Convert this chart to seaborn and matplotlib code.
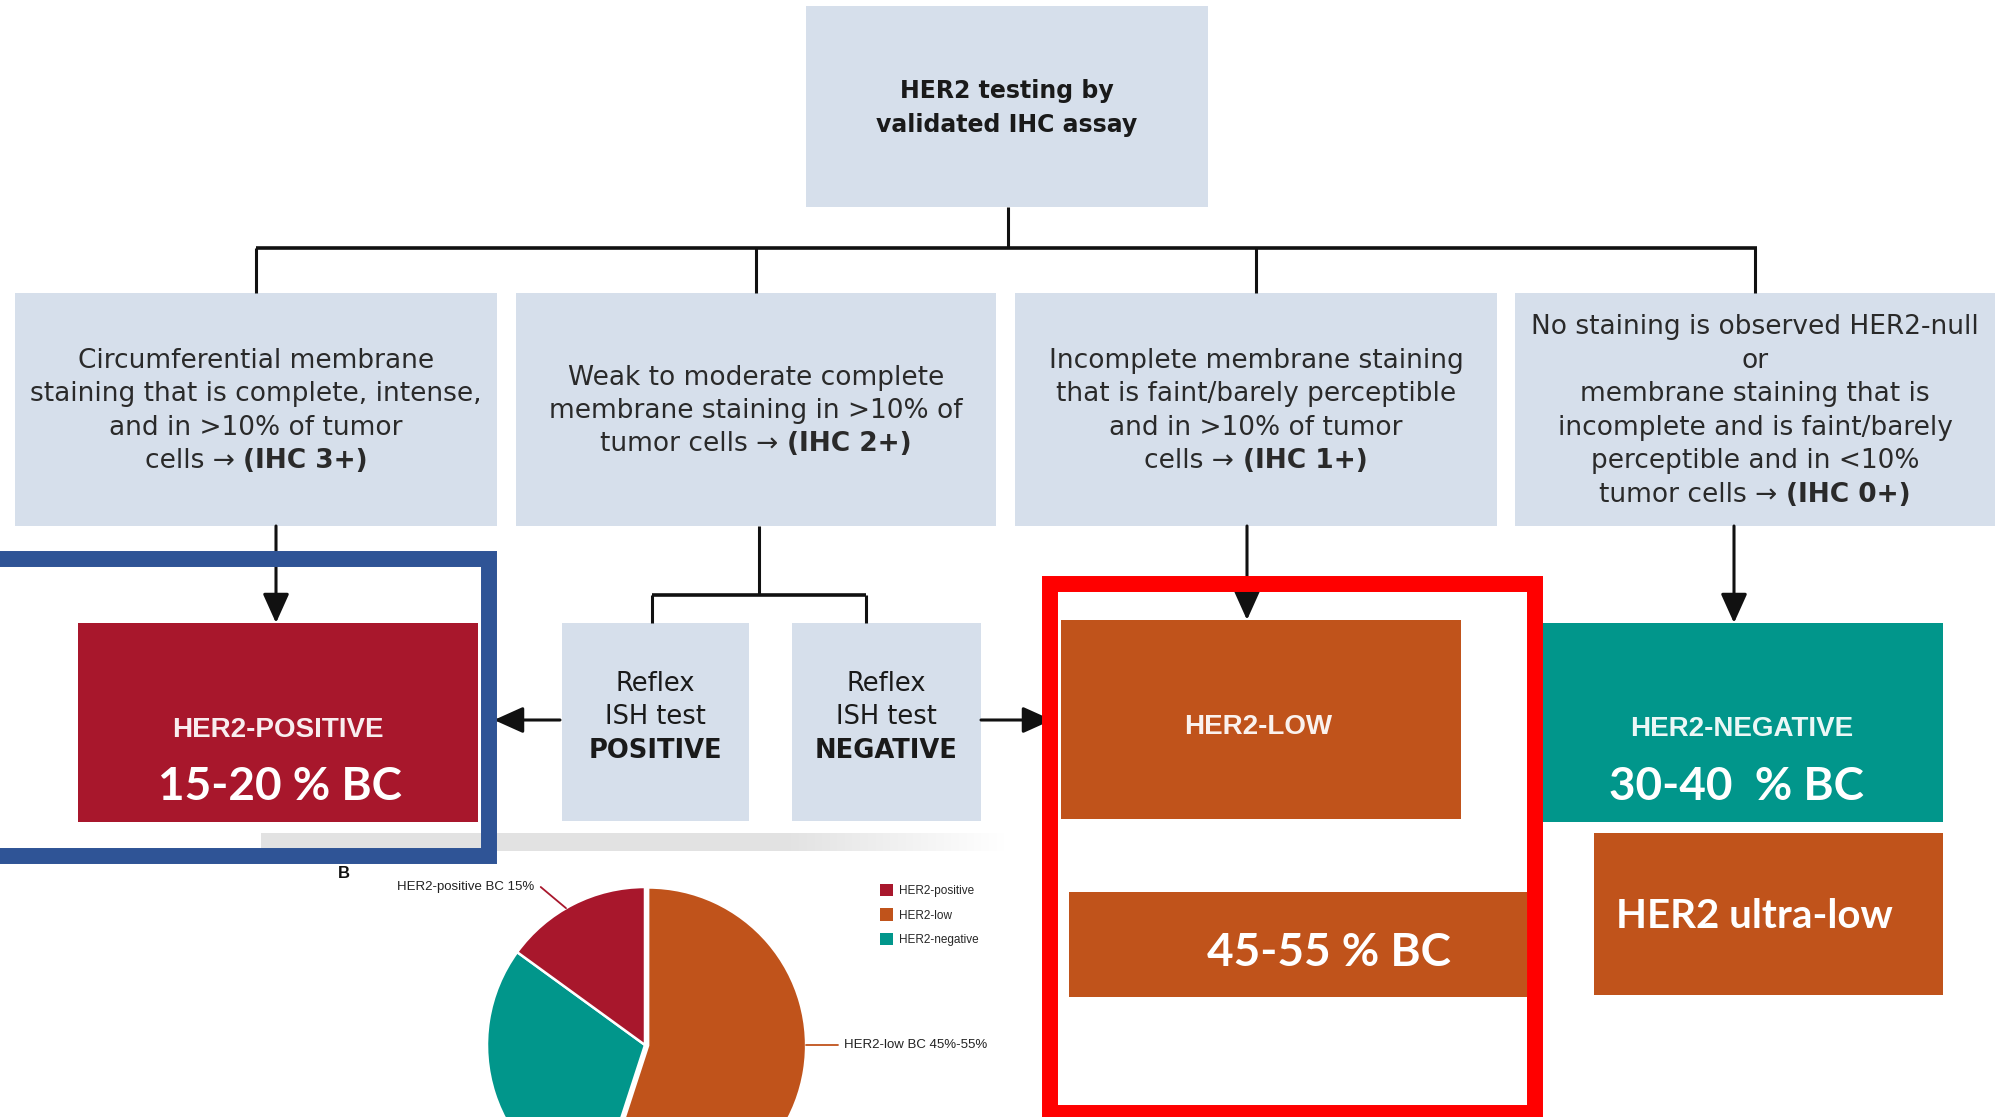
import matplotlib
matplotlib.use("Agg")
import matplotlib.pyplot as plt
from matplotlib.patches import Rectangle, Patch
import seaborn as sns
import numpy as np

W, H = 1998, 1117

# ---------------- data ----------------
root_lines = ["HER2 testing by", "validated IHC assay"]
ihc_lines = [
    [[("Circumferential membrane", "normal")],
     [("staining that is complete, intense,", "normal")],
     [("and in >10% of tumor", "normal")],
     [("cells \u2192", "normal"), ("(IHC 3+)", "bold")]],
    [[("Weak to moderate complete", "normal")],
     [("membrane staining in >10% of", "normal")],
     [("tumor cells \u2192", "normal"), ("(IHC 2+)", "bold")]],
    [[("Incomplete membrane staining", "normal")],
     [("that is faint/barely perceptible", "normal")],
     [("and in >10% of tumor", "normal")],
     [("cells \u2192", "normal"), ("(IHC 1+)", "bold")]],
    [[("No staining is observed HER2-null", "normal")],
     [("or", "normal")],
     [("membrane staining that is", "normal")],
     [("incomplete and is faint/barely", "normal")],
     [("perceptible and in <10%", "normal")],
     [("tumor cells \u2192", "normal"), ("(IHC 0+)", "bold")]],
]
reflex_lines = [["Reflex", "ISH test", "POSITIVE"], ["Reflex", "ISH test", "NEGATIVE"]]
status_labels = ["HER2-POSITIVE", "HER2-LOW", "HER2-NEGATIVE"]
prevalence_labels = ["15-20 % BC", "45-55 % BC", "30-40  % BC"]
ultra_low_label = "HER2 ultra-low"
pie_categories = ["HER2-low", "HER2-negative", "HER2-positive"]
pie_values = [55, 30, 15]
pie_callouts = {"HER2-positive": "HER2-positive BC 15%", "HER2-low": "HER2-low BC 45%-55%"}
legend_order = ["HER2-positive", "HER2-low", "HER2-negative"]
panel_letter = "B"

# ---------------- style ----------------
LIGHT = "#D6DFEB"
RED = "#A8172C"
ORANGE = "#C0531B"
TEAL = "#01968B"
BLUE = "#2F5496"
FRAME_RED = "#FF0000"
INK = "#2a2a2a"
pal = dict(zip(legend_order, sns.color_palette([RED, ORANGE, TEAL])))

sns.set_theme(style="white")
plt.rcParams["font.family"] = ["DejaVu Sans"]

fig = plt.figure(figsize=(W / 100, H / 100), dpi=100)
fig.patch.set_facecolor("white")
ax = fig.add_axes([0, 0, 1, 1])
ax.set_xlim(0, W)
ax.set_ylim(H, 0)
ax.axis("off")
renderer = fig.canvas.get_renderer()


def box(x0, y0, x1, y1, color, z=1):
    ax.add_patch(Rectangle((x0, y0), x1 - x0, y1 - y0, facecolor=color,
                           edgecolor="none", zorder=z))


def seg(xs, ys, lw=2.2):
    ax.plot(xs, ys, color="#111111", lw=lw, solid_capstyle="butt", zorder=2)


def arrow(x0, y0, x1, y1):
    ax.annotate("", xy=(x1, y1), xytext=(x0, y0),
                arrowprops=dict(arrowstyle="-|>,head_length=0.6,head_width=0.27",
                                color="#111111", lw=2.2, shrinkA=0, shrinkB=0,
                                mutation_scale=30), zorder=3)


def rich_line(xc, yb, parts, size, color=INK, family=("DejaVu Sans",)):
    texts = []
    for s, w in parts:
        texts.append(ax.text(0, yb, s, fontsize=size, fontweight=w, color=color,
                             family=list(family), ha="left", va="baseline", zorder=4))
    gap = size * 100 / 72 * 0.32
    widths = [t.get_window_extent(renderer).width for t in texts]
    total = sum(widths) + gap * (len(texts) - 1)
    x = xc - total / 2
    for t, wd in zip(texts, widths):
        t.set_x(x)
        x += wd + gap


# ---- top box ----
box(806, 6, 1208, 207, LIGHT)
for i, s in enumerate(root_lines):
    rich_line(1007, 98 + 34 * i, [(s, "bold")], 17, color="#1a1a1a")

# ---- connectors ----
seg([1008, 1008], [207, 248])
seg([256, 1757], [248, 248], lw=2.6)
ihc_boxes = [(15, 497), (516, 996), (1015, 1497), (1515, 1995)]
for x0, x1 in ihc_boxes:
    xc = (x0 + x1) / 2
    seg([xc, xc], [248, 293])
    box(x0, 293, x1, 526, LIGHT)

# ---- criteria texts ----
step = 33.4
for (x0, x1), lines in zip(ihc_boxes, ihc_lines):
    xc = (x0 + x1) / 2
    n = len(lines)
    for i, parts in enumerate(lines):
        yb = 418 + (i - (n - 1) / 2) * step
        rich_line(xc, yb, parts, 19)

# ---- arrows to result boxes ----
arrow(276, 526, 276, 623)
arrow(1247, 526, 1247, 620)
arrow(1734, 526, 1734, 623)
seg([759, 759], [526, 595])
seg([652, 866], [595, 595], lw=2.6)
seg([652, 652], [595, 623])
seg([866, 866], [595, 623])

# ---- reflex boxes ----
reflex_boxes = [(562, 749), (792, 981)]
for (x0, x1), lines in zip(reflex_boxes, reflex_lines):
    box(x0, 623, x1, 821, LIGHT)
    xc = (x0 + x1) / 2
    for i, s in enumerate(lines):
        rich_line(xc, 691 + 33.5 * i, [(s, "bold" if i == 2 else "normal")], 18.5,
                  color="#1a1a1a")
arrow(560, 720, 494, 720)
arrow(981, 720, 1052, 720)

# ---- result boxes ----
result_boxes = [(78, 623, 478, 822, RED), (1061, 620, 1461, 819, ORANGE),
                (1543, 623, 1943, 822, TEAL)]
status_pos = [(278, 737), (1258, 734), (1742, 736)]
for (x0, y0, x1, y1, c), lab, (tx, ty) in zip(result_boxes, status_labels, status_pos):
    box(x0, y0, x1, y1, c)
    ax.text(tx, ty, lab, fontsize=20, fontweight="bold", color="white", alpha=0.93,
            family=["Liberation Sans", "DejaVu Sans"], ha="center", va="baseline", zorder=4)

big_font = ["Lato", "DejaVu Sans"]
ax.text(280, 800, prevalence_labels[0], fontsize=33, fontweight="bold", color="white",
        family=big_font, ha="center", va="baseline", zorder=4)
ax.text(1736, 800, prevalence_labels[2], fontsize=33, fontweight="bold", color="white",
        family=big_font, ha="center", va="baseline", zorder=4)

box(1594, 833, 1943, 995, ORANGE)
ax.text(1754, 928, ultra_low_label, fontsize=29, fontweight="bold", color="white",
        family=big_font, ha="center", va="baseline", zorder=4)

box(1069, 892, 1527, 997, ORANGE)
ax.text(1329, 966, prevalence_labels[1], fontsize=33, fontweight="bold", color="white",
        family=big_font, ha="center", va="baseline", zorder=4)

# ---- faint grey strip (shadow of inserted panel) ----
grad = np.ones((1, 256, 4))
grad[..., :3] = 0.89
grad[0, :, 3] = np.clip((1006 - np.linspace(261, 1006, 256)) / 220, 0, 1)
ax.imshow(grad, extent=(261, 1006, 851, 833), aspect="auto", zorder=0.5,
          interpolation="bilinear")
ax.set_xlim(0, W)
ax.set_ylim(H, 0)

# ---- highlight frames ----
ax.add_patch(Rectangle((-20, 559), 489 + 20, 856 - 559, facecolor="none",
                       edgecolor=BLUE, lw=11.5, joinstyle="miter", zorder=6))
ax.add_patch(Rectangle((1050, 584), 1535 - 1050, 1113 - 584, facecolor="none",
                       edgecolor=FRAME_RED, lw=11.5, joinstyle="miter", zorder=6))

# ---- panel B: pie ----
ax.text(344, 878, panel_letter, fontsize=12, fontweight="bold", color="#111111",
        family=["Liberation Sans", "DejaVu Sans"], ha="center", va="baseline", zorder=4)

cx, cy, R = 645, 1045, 158
pax = fig.add_axes([(cx - R) / W, (H - cy - R) / H, 2 * R / W, 2 * R / H])
wedges, _ = pax.pie(pie_values, colors=[pal[c] for c in pie_categories], startangle=90,
                    counterclock=False, explode=[0.02, 0, 0], radius=1,
                    wedgeprops=dict(edgecolor="white", linewidth=1.8))
pax.set_xlim(-1, 1)
pax.set_ylim(-1, 1)
pax.set_aspect("equal")
pax.axis("off")

small_font = ["Liberation Sans", "DejaVu Sans"]
w_pos = wedges[pie_categories.index("HER2-positive")]
mid = np.deg2rad((w_pos.theta1 + w_pos.theta2) / 2 + 3)
pax.plot([np.cos(mid), -0.66], [np.sin(mid), 1.0], color=pal["HER2-positive"], lw=1.3,
         clip_on=False)
pax.text(-0.70, 1.0, pie_callouts["HER2-positive"], fontsize=9.5, color="#222222",
         family=small_font, ha="right", va="center")
pax.plot([1.02, 1.22], [0.0, 0.0], color=pal["HER2-low"], lw=1.3, clip_on=False)
pax.text(1.26, 0.0, pie_callouts["HER2-low"], fontsize=9.5, color="#222222",
         family=small_font, ha="left", va="center")

handles = [Patch(facecolor=pal[c], edgecolor="none") for c in legend_order]
pax.legend(handles, legend_order, loc="upper left", bbox_to_anchor=(880 / W, 1 - 884 / H),
           bbox_transform=fig.transFigure, frameon=False, borderpad=0, borderaxespad=0,
           handlelength=1.1, handleheight=1.25, handletextpad=0.5, labelspacing=0.95,
           prop={"family": small_font, "size": 8.5})

fig.savefig("out.png", dpi=100, facecolor="white")
